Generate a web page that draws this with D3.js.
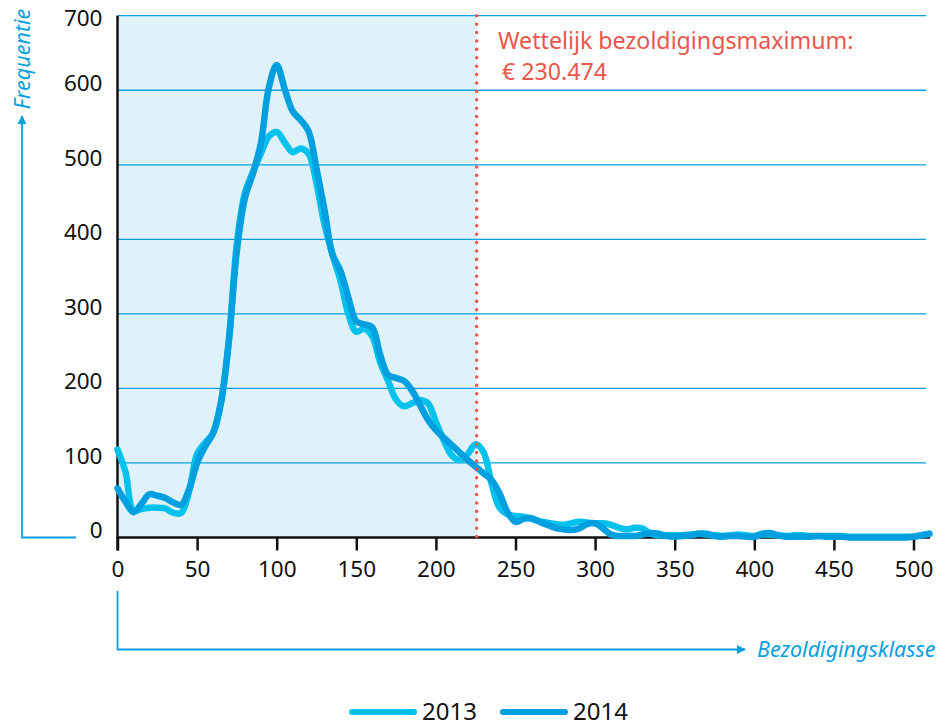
<!DOCTYPE html>
<html>
<head>
<meta charset="utf-8">
<script src="https://cdn.jsdelivr.net/npm/d3@7"></script>
<style>
  body { margin: 0; background: #fff; }
  svg { display: block; font-family: 'Noto Sans', sans-serif; }
</style>
</head>
<body>
<svg width="940" height="727"></svg>
<script>
const svg = d3.select('svg')

// bezoldigingsklasse, step 5
const klassen = d3.range(0, 511, 5)

const freq2013 = [
  118, 88, 36, 38, 40, 40, 39, 33, 33, 62,
  112, 127, 140, 180, 265, 395, 462, 490, 515, 538,
  544, 530, 517, 522, 515, 475, 420, 380, 345, 300,
  276, 280, 270, 235, 210, 185, 176, 180, 184, 180,
  155, 130, 110, 104, 112, 125, 114, 72, 40, 31,
  29, 28, 25, 22, 20, 18, 17, 19, 21, 20,
  19, 19, 17, 13, 11, 13, 12, 5, 3, 3,
  3, 3, 4, 5, 4, 3, 2, 3, 4, 3,
  2, 4, 4, 3, 2, 3, 3, 2, 2, 2,
  2, 2, 1, 1, 1, 1, 1, 1, 1, 1,
  1, 3, 5
]

const freq2014 = [
  66, 48, 34, 45, 58, 56, 53, 47, 44, 65,
  100, 122, 140, 182, 265, 385, 455, 488, 528, 603,
  634, 602, 572, 560, 545, 495, 440, 380, 358, 322,
  290, 286, 282, 245, 218, 214, 210, 197, 178, 158,
  144, 134, 124, 114, 104, 95, 86, 77, 59, 34,
  21, 25, 26, 21, 17, 13, 11, 10, 12, 18,
  19, 12, 4, 2, 2, 2, 4, 6, 5, 2,
  1, 2, 3, 5, 5, 2, 1, 2, 2, 1,
  1, 5, 6, 3, 1, 1, 1, 1, 2, 1,
  1, 1, 0, 0, 0, 0, 0, 0, 0, 0,
  1, 3, 5
]

const yTicks = [0, 100, 200, 300, 400, 500, 600, 700]
const xTicks = [0, 50, 100, 150, 200, 250, 300, 350, 400, 450, 500]
const maximum = 225.6
const seriesNames = ['2013', '2014']
const seriesColors = ['#00c2ec', '#009fe0']

const x = d3.scaleLinear().domain([0, 500]).range([117.5, 913.5])
const y = d3.scaleLinear().domain([0, 700]).range([537.5, 15.7])
const gridRight = 926

// shaded area left of the maximum
svg.append('rect')
   .attr('x', x(0)).attr('y', y(700))
   .attr('width', x(maximum) - x(0))
   .attr('height', y(0) - y(700))
   .attr('fill', '#dff2fa')

// gridlines
svg.append('g')
   .selectAll('line')
   .data(yTicks.slice(1))
   .enter().append('line')
   .attr('x1', x(0)).attr('x2', gridRight)
   .attr('y1', d => y(d)).attr('y2', d => y(d))
   .attr('stroke', '#0a9fe0')
   .attr('stroke-width', 1.3)

// y labels (sit above their gridline, the top one just below)
const yAxis = svg.append('g')
   .attr('transform', `translate(${x(0)},0)`)
   .call(d3.axisLeft(y).tickValues(yTicks).tickSize(0).tickPadding(15))
yAxis.select('.domain').remove()
yAxis.selectAll('text')
     .attr('dy', d => d === 700 ? '0.45em' : '0.02em')
     .attr('font-size', 22.5)
     .attr('font-family', "'Noto Sans', sans-serif")
     .attr('fill', '#111')

// x axis
const xAxis = svg.append('g')
   .attr('transform', `translate(0,${y(0)})`)
   .call(d3.axisBottom(x).tickValues(xTicks).tickSize(13).tickPadding(11))
xAxis.select('.domain').remove()
xAxis.selectAll('line').attr('stroke', '#111').attr('stroke-width', 2.5)
xAxis.selectAll('text')
     .attr('font-size', 22.5)
     .attr('font-family', "'Noto Sans', sans-serif")
     .attr('fill', '#111')

svg.append('line')
   .attr('x1', x(0) - 1).attr('x2', 930)
   .attr('y1', y(0)).attr('y2', y(0))
   .attr('stroke', '#111').attr('stroke-width', 2.5)
svg.append('line')
   .attr('x1', x(0)).attr('x2', x(0))
   .attr('y1', y(700)).attr('y2', y(0) + 13)
   .attr('stroke', '#111').attr('stroke-width', 2.5)

// series
const line = d3.line()
   .x((d, i) => x(klassen[i]))
   .y(d => y(d))
   .curve(d3.curveCatmullRom.alpha(0.5))

const series = [freq2013, freq2014]
svg.append('g')
   .selectAll('path')
   .data(series)
   .enter().append('path')
   .attr('d', line)
   .attr('fill', 'none')
   .attr('stroke', (d, i) => seriesColors[i])
   .attr('stroke-width', 6.5)
   .attr('stroke-linejoin', 'round')
   .attr('stroke-linecap', 'round')

// dotted maximum line
svg.append('line')
   .attr('x1', x(maximum)).attr('x2', x(maximum))
   .attr('y1', y(700)).attr('y2', y(0))
   .attr('stroke', '#e8574c')
   .attr('stroke-width', 3.4)
   .attr('stroke-linecap', 'round')
   .attr('stroke-dasharray', '0.1 8.3')

const note = svg.append('text')
   .attr('fill', '#e8574c')
   .attr('font-size', 23.2)
note.append('tspan').attr('x', 498).attr('y', 49).text('Wettelijk bezoldigingsmaximum:')
note.append('tspan').attr('x', 502).attr('y', 80).text('€ 230.474')

// axis title arrows
const arrowBlue = '#0a9fe0'
svg.append('defs').append('marker')
   .attr('id', 'arrow')
   .attr('viewBox', '0 0 10 10')
   .attr('refX', 9).attr('refY', 5)
   .attr('markerWidth', 5).attr('markerHeight', 5)
   .attr('markerUnits', 'strokeWidth')
   .attr('orient', 'auto')
   .append('path')
   .attr('d', 'M0,0L10,5L0,10z')
   .attr('fill', arrowBlue)

svg.append('path')
   .attr('d', 'M76,537.5H22V116')
   .attr('fill', 'none')
   .attr('stroke', arrowBlue)
   .attr('stroke-width', 1.8)
   .attr('marker-end', 'url(#arrow)')

svg.append('path')
   .attr('d', `M${x(0)},591V649.5H745`)
   .attr('fill', 'none')
   .attr('stroke', arrowBlue)
   .attr('stroke-width', 1.8)
   .attr('marker-end', 'url(#arrow)')

svg.append('text')
   .attr('transform', 'translate(30,59) rotate(-90)')
   .attr('text-anchor', 'middle')
   .attr('font-style', 'italic')
   .attr('font-size', 21.5)
   .attr('fill', arrowBlue)
   .text('Frequentie')

svg.append('text')
   .attr('x', 757).attr('y', 657)
   .attr('font-style', 'italic')
   .attr('font-size', 21.5)
   .attr('fill', arrowBlue)
   .text('Bezoldigingsklasse')

// legend
const legendX = [352, 503]
const legend = svg.append('g')
   .selectAll('g')
   .data(seriesNames)
   .enter().append('g')
   .attr('transform', (d, i) => `translate(${legendX[i]},712)`)
legend.append('line')
   .attr('x1', 0).attr('x2', 62)
   .attr('stroke', (d, i) => seriesColors[i])
   .attr('stroke-width', 6)
   .attr('stroke-linecap', 'round')
legend.append('text')
   .attr('x', 70).attr('dy', '0.35em')
   .attr('font-size', 24)
   .attr('fill', '#111')
   .text(d => d)
</script>
</body>
</html>
